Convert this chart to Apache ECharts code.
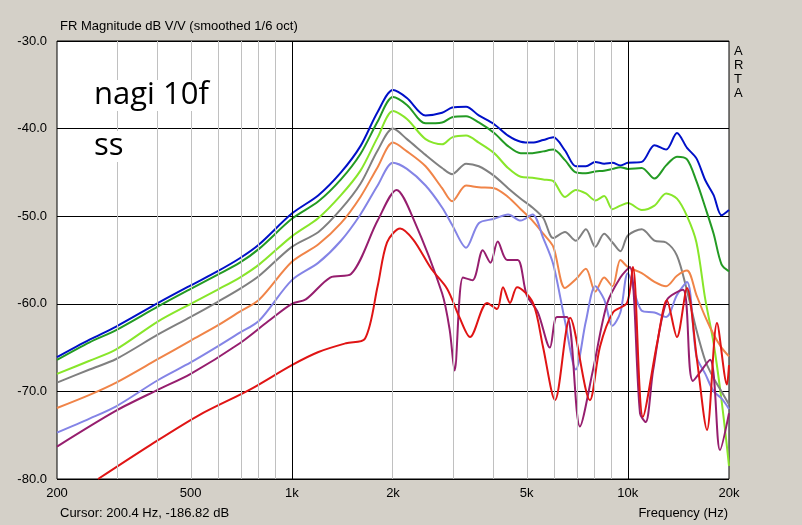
<!DOCTYPE html>
<html style="height: 100%;">
<head>
<meta charset="utf-8">
<title>FR Magnitude</title>
<script src="https://cdn.jsdelivr.net/npm/echarts@6/dist/echarts.min.js"></script>
</head>
<body style="height: 100%; margin: 0; background: #d4d0c8;">
<div id="container" style="width: 802px; height: 525px;"></div>
<script type="text/javascript">
// frequency points shared by the smoother curves (Hz)
var freqs = [200,250,300,400,500,600,700,800,1000,1200,1400,1600,1800,2000,2200,2500,2800,3000,3300,3600,4000,4400,4800,5200,5600,6000,6500,7000,7500,8000,8500,9000,9500,10000,11000,12000,13000,14000,15000,16000,17000,18000,19000,20000];

var blue = [-66.1,-64.1,-62.6,-59.9,-57.9,-56.3,-54.8,-53.2,-49.7,-47.6,-45.0,-42.0,-38.1,-35.6,-36.5,-38.5,-38.2,-37.6,-37.5,-38.5,-39.5,-40.8,-41.5,-41.6,-41.3,-41.0,-42.5,-44.3,-44.3,-43.8,-44.0,-43.9,-44.2,-43.9,-43.8,-41.9,-42.4,-40.5,-42.2,-43.4,-45.9,-47.6,-49.9,-49.3];
var darkGreen = [-66.4,-64.4,-63.0,-60.3,-58.3,-56.7,-55.3,-53.7,-50.3,-48.3,-45.8,-42.9,-39.2,-36.4,-37.3,-39.4,-39.3,-38.7,-38.6,-39.3,-40.5,-42.0,-42.8,-42.8,-42.6,-42.4,-43.6,-45.0,-45.1,-44.9,-44.8,-44.6,-44.4,-44.6,-44.5,-45.7,-44.2,-43.2,-43.5,-46.0,-49.0,-52.0,-55.5,-56.3];
var lightGreen = [-68.0,-66.5,-65.2,-62.0,-60.0,-58.4,-57.0,-55.5,-52.3,-50.2,-47.6,-44.8,-41.0,-38.0,-38.9,-41.2,-41.8,-41.0,-40.8,-41.6,-42.8,-44.5,-45.5,-45.6,-45.8,-46.0,-47.8,-47.0,-47.4,-48.2,-47.7,-49.2,-48.8,-48.5,-49.3,-48.8,-47.4,-48.0,-50.0,-53.0,-59.5,-64.5,-71.0,-78.5];
var gray = [-69.0,-67.5,-66.3,-63.5,-61.5,-59.8,-58.3,-56.8,-53.5,-51.8,-49.2,-46.3,-42.5,-40.0,-41.2,-43.0,-44.5,-45.2,-44.0,-44.3,-45.4,-46.8,-48.0,-49.0,-50.2,-52.5,-51.8,-52.8,-51.5,-53.5,-52.0,-53.0,-54.0,-52.2,-51.5,-52.8,-53.0,-54.5,-58.5,-63.0,-66.5,-68.5,-70.0,-71.5];
var orange = [-71.9,-70.4,-69.0,-66.3,-64.2,-62.5,-60.9,-59.5,-55.2,-53.2,-50.8,-47.8,-44.4,-41.6,-42.6,-44.3,-46.8,-48.3,-46.5,-46.7,-46.8,-47.8,-49.2,-50.5,-52.0,-53.5,-58.2,-57.2,-56.0,-58.6,-57.0,-58.0,-55.0,-55.8,-56.5,-57.5,-58.0,-56.8,-56.2,-59.0,-61.5,-63.5,-65.0,-66.0];
var lightBlue = [-74.7,-73.1,-71.7,-68.7,-66.7,-64.9,-63.3,-61.9,-57.3,-55.3,-52.8,-49.8,-46.5,-43.9,-44.6,-46.5,-49.0,-51.0,-53.6,-50.8,-50.3,-49.8,-50.5,-49.8,-52.5,-55.5,-62.0,-67.5,-62.0,-58.0,-59.5,-62.5,-61.0,-56.5,-60.8,-61.0,-61.5,-59.0,-57.5,-66.0,-68.0,-70.0,-70.8,-72.0];

// more detailed curves: [Hz, dB]
var purple = [[200,-76.3],[300,-72.2],[400,-69.8],[500,-68.0],[700,-64.5],[850,-62.0],[1000,-60],[1100,-59.5],[1300,-57],[1500,-56.6],[1800,-50.5],[2050,-47.0],[2300,-50.3],[2800,-58.8],[2950,-63],[3050,-67.6],[3230,-57],[3450,-57.3],[3700,-53.9],[3900,-55.3],[4100,-52.9],[4370,-55],[4700,-55],[5000,-59],[5400,-61],[5860,-65],[6150,-61.5],[6590,-61.5],[7200,-74],[7870,-67.6],[8670,-60],[9500,-57],[10140,-55.8],[10870,-72.5],[11300,-73.5],[11890,-67.6],[13060,-59.6],[14600,-58.4],[15620,-68.8],[17560,-66.4],[18800,-76.7],[20000,-72.5]];
var red = [[265,-80],[380,-76.1],[530,-72.7],[750,-69.8],[1000,-67],[1200,-65.5],[1450,-64.5],[1650,-64.0],[1800,-58],[1920,-53],[2100,-51.4],[2300,-52.7],[2600,-56],[2900,-58.3],[3150,-61.5],[3390,-63.8],[3810,-59.9],[4080,-60.6],[4250,-58.1],[4460,-59.9],[4680,-58.1],[5220,-59.9],[5590,-64.9],[6070,-71],[6730,-61.6],[7710,-71],[8260,-64.9],[9030,-61],[9940,-59.9],[10350,-55.8],[11090,-72.9],[12220,-64.5],[13060,-59.6],[14000,-63.8],[15000,-58.2],[16060,-66.4],[17200,-74.4],[18420,-62.2],[19720,-69.2],[20000,-67]];

var tickFreqs = [200,500,1000,2000,5000,10000,20000];
var tickNames = ['200','500','1k','2k','5k','10k','20k'];
var minorFreqs = [300,400,500,600,700,800,900,2000,3000,4000,5000,6000,7000,8000,9000];
var majorFreqs = [1000,10000];

function lg(f){ return Math.log10(f); }
function zip(vals){ return freqs.map(function(f,i){ return [lg(f), vals[i]]; }); }
function pairs(arr){ return arr.map(function(p){ return [lg(p[0]), p[1]]; }); }

var curves = [
  {d: zip(blue), c: '#0010c8'},
  {d: zip(darkGreen), c: '#239a23'},
  {d: zip(lightGreen), c: '#88e62a'},
  {d: zip(gray), c: '#808080'},
  {d: zip(orange), c: '#f08448'},
  {d: zip(lightBlue), c: '#8484e6'},
  {d: pairs(purple), c: '#961e6e'},
  {d: pairs(red), c: '#e01414'}
];

var series = [{
  type: 'line', data: [], silent: true, z: 1,
  markLine: {
    silent: true, symbol: 'none', label: {show: false}, animation: false,
    data: minorFreqs.map(function(f){ return {xAxis: lg(f), lineStyle: {color: '#c0c0c0', width: 1, type: 'solid'}}; })
      .concat(majorFreqs.map(function(f){ return {xAxis: lg(f), lineStyle: {color: '#000', width: 1, type: 'solid'}}; }))
  }
}];
curves.forEach(function(s){
  series.push({type: 'line', data: s.d, smooth: 0.3, showSymbol: false, z: 3,
    lineStyle: {color: s.c, width: 2}, itemStyle: {color: s.c}});
});

var myChart = echarts.init(document.getElementById('container'));
myChart.setOption({
  animation: false,
  backgroundColor: '#d4d0c8',
  grid: {left: 57, right: 73, top: 41, bottom: 46, show: true, backgroundColor: '#fff', borderColor: '#000', borderWidth: 1},
  xAxis: {
    type: 'value', min: lg(200), max: lg(20000),
    axisLine: {show: false}, axisTick: {show: false}, splitLine: {show: false},
    axisLabel: {
      customValues: tickFreqs.map(lg), color: '#000', fontFamily: 'Arial, Liberation Sans', fontSize: 13, margin: 8,
      formatter: function(v){ var i = tickFreqs.map(lg).findIndex(function(t){ return Math.abs(t - v) < 1e-6; }); return i >= 0 ? tickNames[i] : ''; }
    }
  },
  yAxis: {
    type: 'value', min: -80, max: -30, interval: 10,
    axisLine: {show: false}, axisTick: {show: false},
    splitLine: {lineStyle: {color: '#000', width: 1}},
    axisLabel: {color: '#000', fontFamily: 'Arial, Liberation Sans', fontSize: 13, margin: 10, formatter: function(v){ return v.toFixed(1); }}
  },
  graphic: [
    {type: 'text', left: 60, top: 20, style: {text: 'FR Magnitude dB V/V (smoothed 1/6 oct)', font: '13px Arial, Liberation Sans', fill: '#000'}},
    {type: 'text', left: 734, top: 44, style: {text: 'A\nR\nT\nA', font: '13px Arial, Liberation Sans', fill: '#000', lineHeight: 14}},
    {type: 'text', left: 60, top: 507, style: {text: 'Cursor: 200.4 Hz, -186.82 dB', font: '13px Arial, Liberation Sans', fill: '#000'}},
    {type: 'text', right: 74, top: 507, style: {text: 'Frequency (Hz)', font: '13px Arial, Liberation Sans', fill: '#000'}},
    {type: 'text', left: 94, top: 80, z: 10, style: {text: 'nagi 10f', font: '31px "Open Sans", Arial', fill: '#000', backgroundColor: '#fff', padding: [0, 4, 0, 0]}},
    {type: 'text', left: 94, top: 131, z: 10, style: {text: 'ss', font: '31px "Open Sans", Arial', fill: '#000', backgroundColor: '#fff'}}
  ],
  series: series
});
</script>
</body>
</html>
